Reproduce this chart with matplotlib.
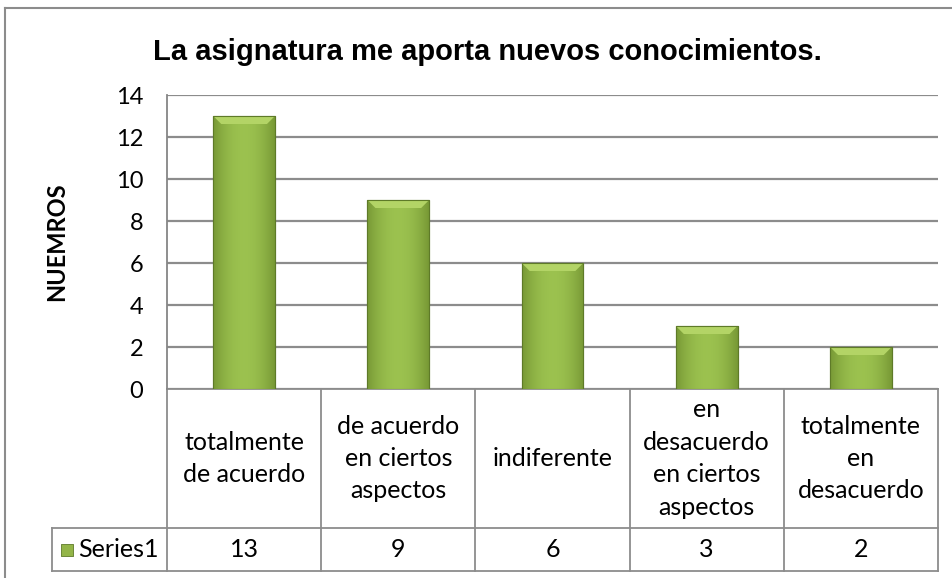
import numpy as np
import matplotlib.pyplot as plt
from matplotlib.patches import Polygon
from matplotlib.lines import Line2D

categories = ['totalmente\nde acuerdo', 'de acuerdo\nen ciertos\naspectos', 'indiferente',
              'en\ndesacuerdo\nen ciertos\naspectos', 'totalmente\nen\ndesacuerdo']
values = [13, 9, 6, 3, 2]
series_name = 'Series1'
title = 'La asignatura me aporta nuevos conocimientos.'
ylabel = 'NUEMROS'
yticks = [0, 2, 4, 6, 8, 10, 12, 14]

W, H = 953, 578
fig = plt.figure(figsize=(W / 100, H / 100), dpi=100)
fig.patch.set_facecolor('white')

# plot area in pixels
left, right, top, bottom = 167, 938, 95, 389
ax = fig.add_axes([left / W, 1 - bottom / H, (right - left) / W, (bottom - top) / H])

x = np.arange(len(values))
ax.set_xlim(-0.5, len(values) - 0.5)
ax.set_ylim(0, 14)
ax.set_yticks(yticks)
ax.set_yticklabels([str(t) for t in yticks], family='Lato', fontsize=17)
ax.tick_params(axis='y', length=0, pad=17)
ax.tick_params(axis='x', length=0, labelbottom=False)
ax.yaxis.grid(True, color='#8c8c8c', linewidth=1.6)
ax.set_axisbelow(True)
for s in ['top', 'right', 'bottom']:
    ax.spines[s].set_visible(False)
ax.spines['left'].set_color('#868686')
ax.spines['left'].set_linewidth(1.3)

bw = 0.4
bars = ax.bar(x, values, width=bw, color='#93b548', edgecolor='#5e7a28', linewidth=0.8, zorder=3)

# horizontal shading + top bevel like the Excel bars
grad = np.linspace(-1, 1, 64)
shade = 1 - np.abs(grad) ** 2
c_dark = np.array([0.47, 0.60, 0.21])
c_light = np.array([0.61, 0.76, 0.31])
img = c_dark[None, None, :] + (c_light - c_dark)[None, None, :] * shade[None, :, None]
bh = 8 / (bottom - top) * 14
bx = 8 / (right - left) * len(values)
for xi, v, b in zip(x, values, bars):
    im = ax.imshow(img, extent=[xi - bw / 2, xi + bw / 2, 0, v], aspect='auto', zorder=3.5)
    im.set_clip_path(b)
    ax.add_patch(Polygon([[xi - bw / 2, v], [xi + bw / 2, v], [xi + bw / 2 - bx, v - bh],
                          [xi - bw / 2 + bx, v - bh]], closed=True, facecolor='#b3d466',
                         edgecolor='none', zorder=4))
    ax.add_patch(Polygon([[xi - bw / 2, v], [xi + bw / 2, v], [xi + bw / 2, 0], [xi - bw / 2, 0]],
                         closed=True, facecolor='none', edgecolor='#5e7a28', linewidth=0.8, zorder=5))
ax.set_aspect('auto')

# data table under the axis
r1 = -(528 - bottom) / (bottom - top)
r2 = -(571 - bottom) / (bottom - top)
leg_left = -0.5 - (left - 52) / ((right - left) / len(values))
tr = ax.get_xaxis_transform()
kw = dict(color='#8c8c8c', linewidth=1.3, clip_on=False, zorder=1, transform=tr)
ax.plot([-0.5, len(values) - 0.5], [0, 0], **kw)
ax.plot([-0.5, -0.5], [0, r2], **kw)
ax.plot([leg_left, len(values) - 0.5], [r1, r1], **kw)
ax.plot([leg_left, len(values) - 0.5], [r2, r2], **kw)
ax.plot([leg_left, leg_left], [r1, r2], **kw)
for i in range(len(values)):
    ax.plot([i + 0.5, i + 0.5], [0, r2], **kw)
for i, (c, v) in enumerate(zip(categories, values)):
    ax.text(i, r1 / 2, c, transform=tr, ha='center', va='center', family='Lato',
            fontsize=18, linespacing=1.5)
    ax.text(i, (r1 + r2) / 2, str(v), transform=tr, ha='center', va='center', family='Lato',
            fontsize=18)
ax.text(leg_left + 0.17, (r1 + r2) / 2, series_name, transform=tr, ha='left', va='center',
        family='Lato', fontsize=18)
ax.scatter([leg_left + 0.1], [(r1 + r2) / 2], marker='s', s=75, color='#93b548',
           edgecolor='#5e7a28', linewidth=0.6, transform=tr, clip_on=False)

fig.text(487 / W, 1 - 52 / H, title, ha='center', va='center', family='Liberation Sans',
         fontweight='bold', fontsize=21)
fig.text(57 / W, 1 - 242 / H, ylabel, ha='center', va='center', rotation=90,
         family='Lato', fontweight='bold', fontsize=17)

# outer chart frame (left and top visible)
fig.add_artist(Line2D([5 / W, 5 / W], [0, 1 - 8 / H], color='#8c8c8c', linewidth=1.5))
fig.add_artist(Line2D([5 / W, 1], [1 - 8 / H, 1 - 8 / H], color='#8c8c8c', linewidth=1.5))

fig.savefig('out.png', dpi=100)
